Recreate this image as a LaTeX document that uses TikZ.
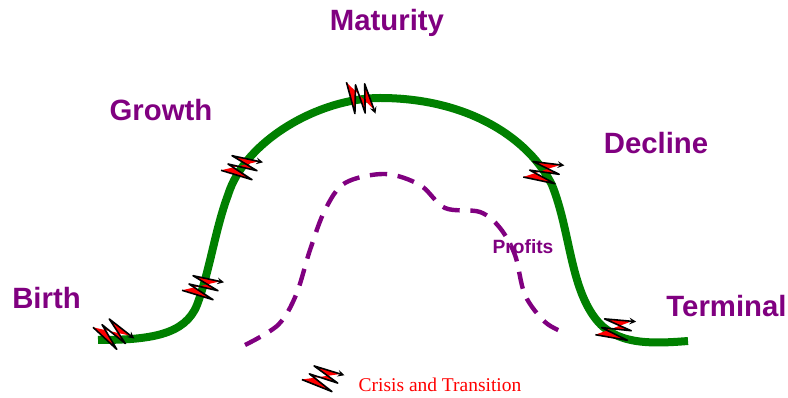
\documentclass[tikz,border=0pt]{standalone}
\usepackage{fontspec}
\setmainfont{Liberation Serif}
\setsansfont{Liberation Sans}
\definecolor{curvegreen}{RGB}{0,128,0}
\definecolor{labelpurple}{RGB}{128,0,128}
\tikzstyle{stagelabel}=[text=labelpurple,font=\sffamily\bfseries\fontsize{22}{24}\selectfont,inner sep=0pt]
\tikzstyle{lifecycle}=[curvegreen,line width=6pt]
\tikzstyle{profitline}=[labelpurple,line width=3.3pt,dash pattern=on 13pt off 8pt]
\newcommand{\drawCrisis}[3]{
\begin{scope}[shift={(#1,#2)},rotate=#3]
\draw[fill=red,even odd rule,line width=1.2pt,line join=round,-stealth] (-20,2.3) -- (11,11.7) -- (-13,-4) -- (16,2.7) -- (-9,-12.3) -- (22,-5.7);
\end{scope}
}
\begin{document}
\begin{tikzpicture}[x=0.75pt,y=-0.75pt]
	\useasboundingbox (0,0) rectangle (788,398);
	\draw[lifecycle] (98,340) .. controls (150,340) and (185,335) .. (197,305) .. controls (210,270) and (215,230) .. (228,195) .. controls (245,140) and (320,98) .. (380,98) .. controls (470,98) and (530,140) .. (552,185) .. controls (570,230) and (570,285) .. (595,318) .. controls (615,345) and (650,344) .. (688,341);
	\draw[profitline] plot[smooth,tension=0.55] coordinates {(245,345) (278,325) (296,295) (310,250) (325,210) (345,183) (385,174) (420,185) (445,208) (480,212) (500,228) (515,255) (525,295) (545,322) (565,333)};
	\foreach \x/\y/\r in {112/334/-26,202/288/0,241/168/0,359/98/-58,543/173/5,615/330/7,322/379/-5} {
		\drawCrisis{\x}{\y}{\r}
	}
	\node[stagelabel] (birth) at (46.5,298) {Birth};
	\node[stagelabel] (growth) at (161,110) {Growth};
	\node[stagelabel] (maturity) at (387,23) {Maturity};
	\node[stagelabel] (decline) at (656,143) {Decline};
	\node[stagelabel] (terminal) at (726.5,306) {Terminal};
	\node[text=labelpurple,font=\sffamily\bfseries\fontsize{14.4}{16}\selectfont,inner sep=0pt] (profits) at (523,247) {Profits};
	\node[text=red,font=\fontsize{14.6}{16}\selectfont,inner sep=0pt] (crisis) at (440,385) {Crisis and Transition};
\end{tikzpicture}
\end{document}
